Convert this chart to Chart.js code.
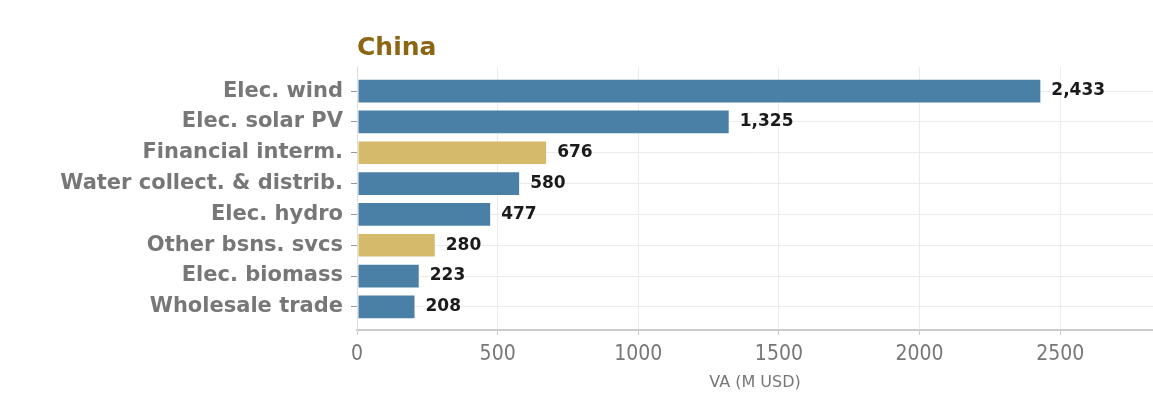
<!DOCTYPE html>
<html>
<head>
<meta charset="utf-8">
<script src="https://cdn.jsdelivr.net/npm/chart.js@4"></script>
<style>
  html, body { margin: 0; padding: 0; background: #fff; }
  #wrap { width: 1153px; height: 412px; }
</style>
</head>
<body>
<div id="wrap"><canvas id="va-chart"></canvas></div>
<script>
// Chart data
const sectors = ['Elec. wind', 'Elec. solar PV', 'Financial interm.', 'Water collect. & distrib.',
    'Elec. hydro', 'Other bsns. svcs', 'Elec. biomass', 'Wholesale trade'];
const vaValues = [2433, 1325, 676, 580, 477, 280, 223, 208];
const highlighted = [false, false, true, false, false, true, false, false];
const xTicks = [0, 500, 1000, 1500, 2000, 2500];

const BLUE = '#4a7fa6';
const GOLD = '#d6ba6b';
const GREY = '#777777';

// value labels + title
const labelPlugin = {
    id: 'valueLabels',
    afterDatasetsDraw(chart) {
        const ctx = chart.ctx;
        const meta = chart.getDatasetMeta(0);
        ctx.save();
        ctx.font = 'bold 17px "DejaVu Sans"';
        ctx.fillStyle = '#1a1a1a';
        ctx.textBaseline = 'middle';
        ctx.textAlign = 'left';
        meta.data.forEach((bar, i) => {
            ctx.fillText(vaValues[i].toLocaleString('en-US'), bar.x + 10, bar.y);
        });
        ctx.font = 'bold 25px "DejaVu Sans"';
        ctx.fillStyle = '#8b6613';
        ctx.textBaseline = 'alphabetic';
        ctx.fillText('China', chart.chartArea.left, 55);
        ctx.restore();
    }
};

new Chart(document.getElementById('va-chart'), {
    type: 'bar',
    data: {
        datasets: [{
            data: vaValues.map((v, i) => ({ x: v, y: i })),
            backgroundColor: highlighted.map(h => h ? GOLD : BLUE),
            borderColor: 'rgba(255, 255, 255, 0.45)',
            borderWidth: 1,
            borderSkipped: false,
            barPercentage: 0.8,
            categoryPercentage: 1
        }]
    },
    options: {
        indexAxis: 'y',
        responsive: true,
        maintainAspectRatio: false,
        animation: false,
        layout: { padding: { top: 67, right: 0, left: 0, bottom: 18 } },
        plugins: {
            legend: { display: false },
            tooltip: { enabled: false }
        },
        scales: {
            x: {
                type: 'linear',
                min: 0,
                max: 2830,
                afterBuildTicks: s => { s.ticks = xTicks.map(v => ({ value: v })); },
                afterFit: s => { s.height = 64; },
                ticks: {
                    color: GREY,
                    padding: 7,
                    callback: v => String(v),
                    font: { family: '"Liberation Sans Narrow", "DejaVu Sans Condensed", "DejaVu Sans"', size: 21 }
                },
                grid: { color: '#ebebeb', tickColor: '#cccccc', tickLength: 5 },
                border: { color: '#cccccc', width: 2 },
                title: {
                    display: true,
                    text: 'VA (M USD)',
                    color: GREY,
                    padding: { top: 0, bottom: 2 },
                    font: { family: '"DejaVu Sans"', size: 16 }
                }
            },
            y: {
                type: 'linear',
                reverse: true,
                offset: false,
                min: -0.78,
                max: 7.75,
                afterBuildTicks: s => { s.ticks = sectors.map((c, i) => ({ value: i })); },
                afterFit: s => { s.width = 357; },
                ticks: {
                    color: GREY,
                    padding: 8,
                    callback: v => sectors[v],
                    font: { family: '"DejaVu Sans"', size: 21, weight: 'bold' }
                },
                grid: { offset: false, color: '#ebebeb', tickColor: '#999999', tickLength: 6 },
                border: { color: '#dddddd', width: 1 }
            }
        }
    },
    plugins: [labelPlugin]
});
</script>
</body>
</html>
